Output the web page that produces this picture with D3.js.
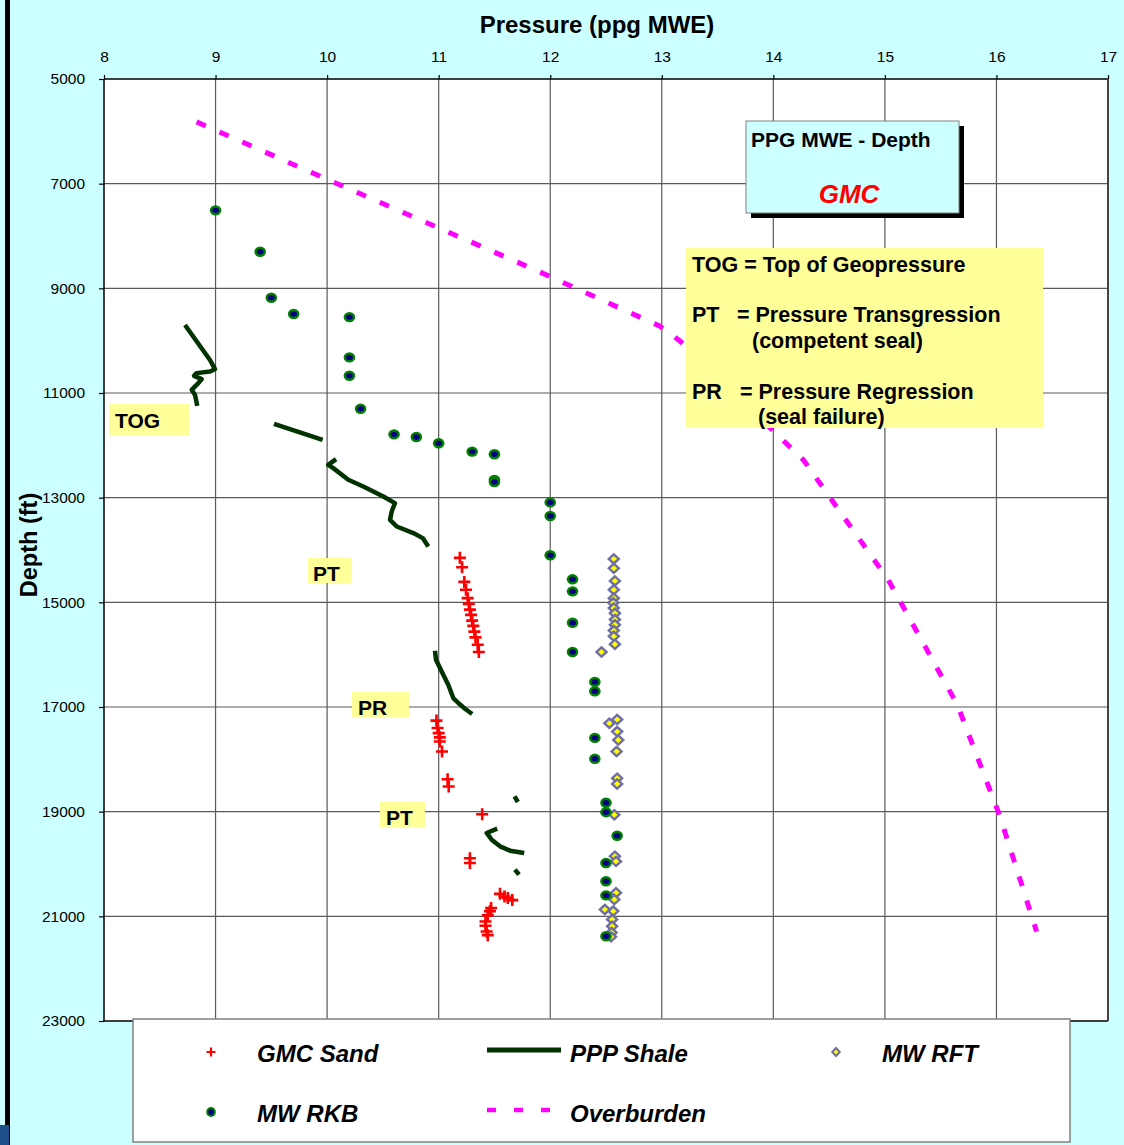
<!DOCTYPE html>
<html><head><meta charset="utf-8">
<script src="https://cdn.jsdelivr.net/npm/d3@7"></script>
<style>body{margin:0;background:#CCFFFF;} svg{display:block;}</style>
</head><body>
<svg id="chart" width="1124" height="1145"></svg>
<script>
// ---------- DATA ----------
const xTicks = [8, 9, 10, 11, 12, 13, 14, 15, 16, 17];
const yTicks = [5000, 7000, 9000, 11000, 13000, 15000, 17000, 19000, 21000, 23000];

// [pressure ppg, depth ft]
const gmcSand = [
  [11.19,14150],[11.21,14330],[11.23,14610],[11.245,14760],[11.26,14920],[11.27,15030],
  [11.28,15140],[11.29,15240],[11.30,15350],[11.31,15450],[11.32,15560],[11.33,15670],
  [11.35,15810],[11.36,15950],
  [10.98,17260],[10.99,17400],[11.00,17500],[11.01,17580],[11.01,17660],[11.03,17850],
  [11.08,18380],[11.09,18520],
  [11.39,19050],
  [11.28,19890],[11.28,19980],
  [11.55,20570],[11.59,20620],[11.62,20650],[11.66,20690],
  [11.47,20840],[11.46,20900],[11.44,20980],
  [11.42,21100],[11.42,21180],[11.43,21290],[11.44,21360]
];

const mwRKB = [
  [9.0,7510],[9.4,8300],[9.5,9180],[9.7,9490],[10.2,9550],[10.2,10320],[10.2,10670],
  [10.3,11300],[10.6,11790],[10.8,11840],[11.0,11960],[11.3,12120],[11.5,12170],
  [11.5,12660],[11.5,12700],[12.0,13090],[12.0,13350],[12.0,14100],
  [12.2,14560],[12.2,14790],[12.2,15390],[12.2,15950],
  [12.4,16520],[12.4,16700],[12.4,17590],[12.4,17990],
  [12.5,18830],[12.5,19010],[12.6,19460],[12.5,19980],[12.5,20330],[12.5,20600],[12.5,21380]
];

const mwRFT = [
  [12.57,14170],[12.57,14350],[12.58,14590],[12.57,14760],[12.57,14920],[12.565,15010],
  [12.57,15110],[12.58,15210],[12.58,15330],[12.58,15430],[12.57,15540],[12.57,15650],
  [12.58,15800],[12.46,15950],
  [12.53,17310],[12.60,17240],[12.60,17470],[12.61,17630],[12.595,17850],
  [12.60,18360],[12.60,18470],[12.575,19060],[12.58,19850],[12.59,19950],
  [12.59,20550],[12.575,20680],[12.49,20870],[12.565,20900],[12.555,21060],
  [12.555,21190],[12.55,21310],[12.545,21390]
];

const overburden = [
  [8.83,5820],[9.95,6870],[11.91,8690],[12.98,9720],[13.16,10000],[14.27,12280],
  [15.03,14570],[15.65,16960],[16.03,19080],[16.36,21290]
];

const pppShale = [
  [[8.726,9700],[8.95,10370],[8.995,10545],[8.95,10590],[8.83,10620],[8.807,10673],
   [8.876,10736],[8.83,10845],[8.786,10940],[8.816,11036],[8.836,11246]],
  [[9.524,11590],[9.96,11895]],
  [[10.08,12264],[10.01,12373],[10.055,12436],[10.19,12659],[10.324,12787],[10.504,12978],
   [10.608,13104],[10.579,13264],[10.564,13423],[10.624,13551],[10.773,13677],
   [10.857,13773],[10.907,13933]],
  [[10.967,15925],[10.976,16097],[11.027,16321],[11.086,16575],[11.131,16829],
   [11.176,16924],[11.236,17033],[11.30,17134]],
  [[11.68,18708],[11.71,18815]],
  [[11.525,19325],[11.43,19407],[11.475,19535],[11.55,19663],[11.64,19745],[11.767,19789]],
  [[11.684,20108],[11.72,20204]]
];

const legendItems = ["GMC Sand", "PPP Shale", "MW RFT", "MW RKB", "Overburden"];
const noteLines = ["TOG = Top of Geopressure", "PT", "= Pressure Transgression", "(competent seal)",
                   "PR", "= Pressure Regression", "(seal failure)"];

// ---------- LAYOUT ----------
const FONT = "'Liberation Sans', Arial, Helvetica, sans-serif";
const svg = d3.select("#chart");
const L = 104, R = 1108, T = 79, B = 1021;
const x = d3.scaleLinear().domain([8, 17]).range([L, R]);
const y = d3.scaleLinear().domain([5000, 23000]).range([T, B]);

// background
svg.append("rect").attr("width", 1124).attr("height", 1145).attr("fill", "#CCFFFF");
svg.append("rect").attr("x", 5).attr("y", 0).attr("width", 5).attr("height", 1145).attr("fill", "#000");
svg.append("rect").attr("x", 0).attr("y", 1125).attr("width", 9).attr("height", 20).attr("fill", "#1F4E8C");

// plot area
svg.append("rect").attr("x", L).attr("y", T).attr("width", R - L).attr("height", B - T).attr("fill", "#fff");

// gridlines
const grid = svg.append("g").attr("stroke", "#5a5a5a").attr("stroke-width", 1.2);
xTicks.slice(1, -1).forEach(v => grid.append("line")
  .attr("x1", x(v)).attr("x2", x(v)).attr("y1", T).attr("y2", B));
yTicks.slice(1, -1).forEach(v => grid.append("line")
  .attr("x1", L).attr("x2", R).attr("y1", y(v)).attr("y2", y(v)));

// border
svg.append("line").attr("x1", L).attr("x2", R).attr("y1", T).attr("y2", T).attr("stroke", "#000").attr("stroke-width", 1.5);
svg.append("line").attr("x1", L).attr("x2", R).attr("y1", B).attr("y2", B).attr("stroke", "#000").attr("stroke-width", 1.5);
svg.append("line").attr("x1", L).attr("x2", L).attr("y1", T).attr("y2", B).attr("stroke", "#000").attr("stroke-width", 1.5);
svg.append("line").attr("x1", R).attr("x2", R).attr("y1", T).attr("y2", B).attr("stroke", "#444").attr("stroke-width", 2);

// axes
const xAxis = svg.append("g").attr("transform", `translate(0,${T})`)
  .call(d3.axisTop(x).tickValues(xTicks).tickSize(4).tickPadding(13).tickFormat(d3.format("d")));
const yAxis = svg.append("g").attr("transform", `translate(${L},0)`)
  .call(d3.axisLeft(y).tickValues(yTicks).tickSize(5).tickPadding(14).tickFormat(d3.format("d")));
[xAxis, yAxis].forEach(a => {
  a.select(".domain").remove();
  a.selectAll(".tick line").attr("stroke", "#000").attr("stroke-width", 1.2);
  a.selectAll(".tick text").attr("font-family", FONT).attr("font-size", 15.5).attr("fill", "#000");
});

// axis titles
svg.append("text").attr("x", 597).attr("y", 33).attr("text-anchor", "middle")
  .attr("font-family", FONT).attr("font-weight", "bold").attr("font-size", 24).text("Pressure (ppg MWE)");
svg.append("text").attr("transform", "translate(37,545) rotate(-90)").attr("text-anchor", "middle")
  .attr("font-family", FONT).attr("font-weight", "bold").attr("font-size", 23.5).text("Depth (ft)");

// ---------- MARKS ----------
const line = d3.line().x(d => x(d[0])).y(d => y(d[1]));

// overburden
svg.append("path").datum(overburden).attr("d", line).attr("fill", "none")
  .attr("stroke", "#FF00FF").attr("stroke-width", 5).attr("stroke-dasharray", "10,15");

// shale
svg.append("g").selectAll("path").data(pppShale).join("path").attr("d", line)
  .attr("fill", "none").attr("stroke", "#003300").attr("stroke-width", 4.5)
  .attr("stroke-linejoin", "round");

// gmc sand crosses
const crossPath = "M-6,0H6M0,-6V6";
svg.append("g").selectAll("path").data(gmcSand).join("path")
  .attr("transform", d => `translate(${x(d[0])},${y(d[1])})`).attr("d", crossPath)
  .attr("stroke", "#FF0000").attr("stroke-width", 2.6).attr("fill", "none");

// RFT diamonds
const diamond = "M0,-4.6L5,0L0,4.6L-5,0Z";
svg.append("g").selectAll("path").data(mwRFT).join("path")
  .attr("transform", d => `translate(${x(d[0])},${y(d[1])})`).attr("d", diamond)
  .attr("fill", "#FFFF00").attr("stroke", "#6E6EA8").attr("stroke-width", 2.4);

// RKB circles
const rkb = svg.append("g").selectAll("g").data(mwRKB).join("g")
  .attr("transform", d => `translate(${x(d[0])},${y(d[1])})`);
rkb.append("ellipse").attr("rx", 5.8).attr("ry", 5.2).attr("fill", "#008000");
rkb.append("ellipse").attr("rx", 3.4).attr("ry", 2.7).attr("fill", "#000080");

// ---------- ANNOTATIONS ----------
function yellowLabel(bx, by, bw, bh, tx, ty, txt) {
  svg.append("rect").attr("x", bx).attr("y", by).attr("width", bw).attr("height", bh).attr("fill", "#FFFF99");
  svg.append("text").attr("x", tx).attr("y", ty).attr("font-family", FONT).attr("font-weight", "bold")
    .attr("font-size", 21).text(txt);
}
yellowLabel(109, 404, 80, 32, 115, 428, "TOG");
yellowLabel(308, 558, 43, 25, 313, 581, "PT");
yellowLabel(352, 692, 57, 25, 358, 715, "PR");
yellowLabel(380, 802, 45, 25, 386, 825, "PT");

// title box
svg.append("rect").attr("x", 751).attr("y", 126).attr("width", 213).attr("height", 92).attr("fill", "#000");
svg.append("rect").attr("x", 746).attr("y", 121).attr("width", 213).attr("height", 92)
  .attr("fill", "#CCFFFF").attr("stroke", "#808080").attr("stroke-width", 1);
svg.append("text").attr("x", 751).attr("y", 147).attr("font-family", FONT).attr("font-weight", "bold")
  .attr("font-size", 21).text("PPG MWE - Depth");
svg.append("text").attr("x", 849).attr("y", 203).attr("text-anchor", "middle").attr("font-family", FONT)
  .attr("font-weight", "bold").attr("font-style", "italic").attr("font-size", 26).attr("fill", "#FF0000").text("GMC");

// note box
svg.append("rect").attr("x", 686).attr("y", 248).attr("width", 357).attr("height", 180).attr("fill", "#FFFF99");
const notePos = [[692, 272], [692, 322], [737, 322], [752, 348], [692, 399], [740, 399], [758, 424]];
noteLines.forEach((t, i) => svg.append("text").attr("x", notePos[i][0]).attr("y", notePos[i][1])
  .attr("font-family", FONT).attr("font-weight", "bold").attr("font-size", 21.5).text(t));

// ---------- LEGEND ----------
svg.append("rect").attr("x", 133).attr("y", 1019).attr("width", 937).attr("height", 123)
  .attr("fill", "#fff").attr("stroke", "#808080").attr("stroke-width", 1.5);
const lg = svg.append("g");
const legPos = [[257, 1062], [570, 1062], [882, 1062], [257, 1122], [570, 1122]];
legendItems.forEach((t, i) => lg.append("text").attr("x", legPos[i][0]).attr("y", legPos[i][1])
  .attr("font-family", FONT).attr("font-weight", "bold").attr("font-style", "italic")
  .attr("font-size", 24).text(t));
lg.append("path").attr("transform", "translate(211,1052)").attr("d", "M-4.5,0H4.5M0,-4.5V4.5")
  .attr("stroke", "#FF0000").attr("stroke-width", 2.2);
lg.append("line").attr("x1", 487).attr("x2", 561).attr("y1", 1050).attr("y2", 1050)
  .attr("stroke", "#003300").attr("stroke-width", 5);
lg.append("path").attr("transform", "translate(836,1052)").attr("d", "M0,-4L3.8,0L0,4L-3.8,0Z")
  .attr("fill", "#FFFF00").attr("stroke", "#6E6EA8").attr("stroke-width", 2);
lg.append("ellipse").attr("cx", 211).attr("cy", 1112).attr("rx", 4.8).attr("ry", 5).attr("fill", "#008000");
lg.append("ellipse").attr("cx", 211).attr("cy", 1112).attr("rx", 2.8).attr("ry", 3).attr("fill", "#000080");
lg.append("line").attr("x1", 487).attr("x2", 551).attr("y1", 1110).attr("y2", 1110)
  .attr("stroke", "#FF00FF").attr("stroke-width", 4.5).attr("stroke-dasharray", "9,18");
</script>
</body></html>
